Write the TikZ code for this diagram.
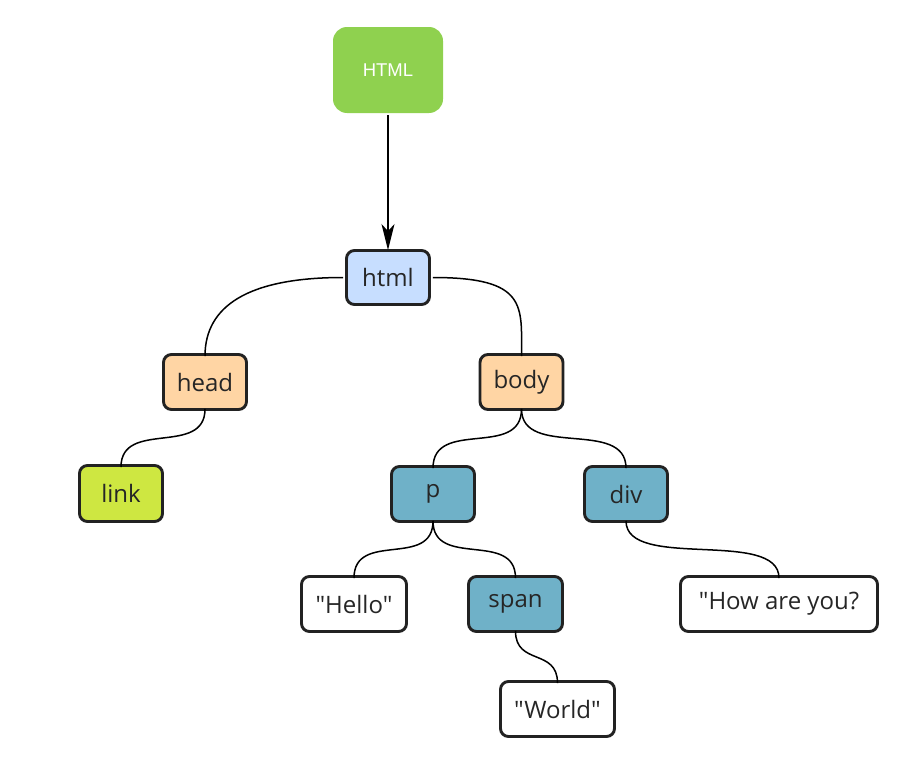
\documentclass[tikz,border=0pt]{standalone}
\usepackage{fontspec}
\newfontfamily\osans{Open Sans}
\newfontfamily\arialfont{Liberation Sans}
\usetikzlibrary{arrows.meta}
\definecolor{rootgreen}{HTML}{8FD14F}
\definecolor{htmlblue}{HTML}{C7DEFF}
\definecolor{peach}{HTML}{FFD5A4}
\definecolor{lime}{HTML}{CEE741}
\definecolor{teal}{HTML}{6FB1C8}
\definecolor{edge}{HTML}{222222}
\definecolor{txt}{HTML}{262626}
\begin{document}
\begin{tikzpicture}[x=1pt,y=-1pt,
  box/.style={draw=edge, line width=2.9pt, rounded corners=8pt, inner sep=0pt,
    minimum height=55pt, text=txt, font=\osans\fontsize{24}{28}\selectfont},
  conn/.style={draw=black, line width=1.5pt}]
\useasboundingbox (0,0) rectangle (913,771);
\node[fill=rootgreen, rounded corners=14pt, minimum width=110pt, minimum height=86pt,
  inner sep=0pt, text=white, font=\arialfont\fontsize{18.5}{21}\selectfont] (root) at (388,70) {HTML};
\node[box, fill=htmlblue, minimum width=83pt, minimum height=54pt] (html) at (388,277.5) {html};
\node[box, fill=peach, minimum width=83pt] (head) at (205,382) {head};
\node[box, fill=peach, minimum width=83pt] (body) at (521.5,382) {body};
\node[box, fill=lime, minimum width=83pt, minimum height=56pt] (link) at (121,493.5) {link};
\node[box, fill=teal, minimum width=83pt] (p) at (433,494) {p};
\node[box, fill=teal, minimum width=83pt] (div) at (626,494) {div};
\node[box, fill=white, minimum width=105pt] (hello) at (354,604) {"Hello"};
\node[box, fill=teal, minimum width=94pt] (span) at (515.5,604) {span};
\node[box, fill=white, minimum width=197pt] (how) at (779,604) {"How are you?};
\node[box, fill=white, minimum width=114pt] (world) at (557.5,709) {"World"};

\draw[line width=1.6pt, -{Stealth[length=26pt,width=13pt,inset=7pt]}] ([yshift=-2pt]root.south) -- ([yshift=-1pt]html.north);

\draw[conn] ([xshift=-2pt]html.west) .. controls +(-95,0) and +(0,-50) .. ([yshift=-3pt]head.north);
\draw[conn] ([xshift=2pt]html.east) .. controls +(95,0) and +(0,-50) .. ([yshift=-3pt]body.north);
\draw[conn] ([yshift=2pt]head.south) .. controls +(0,48) and +(0,-48) .. ([yshift=-3pt]link.north);
\draw[conn] ([yshift=2pt]body.south) .. controls +(0,50) and +(0,-50) .. ([yshift=-3pt]p.north);
\draw[conn] ([yshift=2pt]body.south) .. controls +(0,50) and +(0,-50) .. ([yshift=-3pt]div.north);
\draw[conn] ([yshift=2pt]p.south) .. controls +(0,48) and +(0,-48) .. ([yshift=-3pt]hello.north);
\draw[conn] ([yshift=2pt]p.south) .. controls +(0,48) and +(0,-48) .. ([yshift=-3pt]span.north);
\draw[conn] ([yshift=2pt]div.south) .. controls +(0,50) and +(0,-50) .. ([yshift=-3pt]how.north);
\draw[conn] ([yshift=2pt]span.south) .. controls +(0,35) and +(0,-35) .. ([yshift=-3pt]world.north);
\end{tikzpicture}
\end{document}
